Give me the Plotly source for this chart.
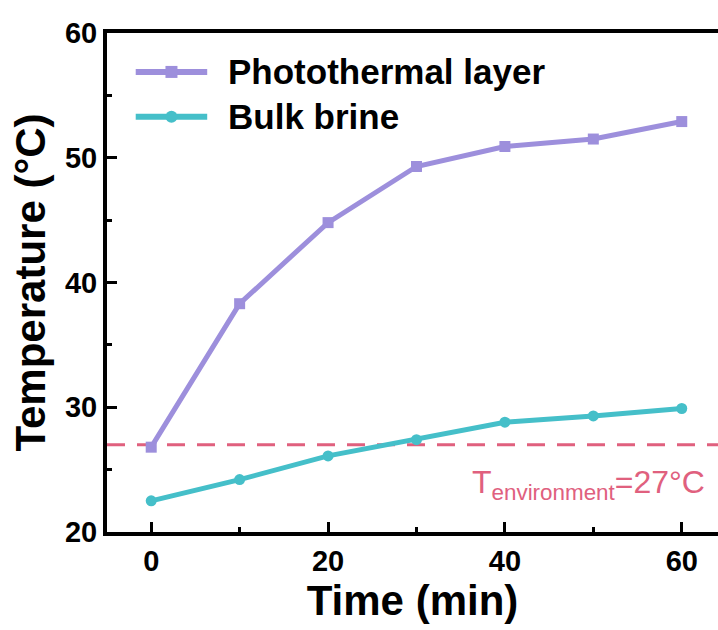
import plotly.graph_objects as go

# Measured temperatures over time
time_min = [0, 10, 20, 30, 40, 50, 60]
photothermal_layer = [26.8, 38.3, 44.8, 49.3, 50.9, 51.5, 52.9]
bulk_brine = [22.5, 24.2, 26.1, 27.4, 28.8, 29.3, 29.9]
t_environment = 27

series_names = ["Photothermal layer", "Bulk brine"]
purple = "#9d8fdc"
teal = "#45bfc9"
pink = "#e0607e"

FONT = "Liberation Sans, Arial, sans-serif"

fig = go.Figure()
fig.add_trace(go.Scatter(
    x=time_min, y=photothermal_layer, mode="lines+markers", name=series_names[0],
    line=dict(color=purple, width=5),
    marker=dict(symbol="square", size=11, color=purple),
    showlegend=False,
))
fig.add_trace(go.Scatter(
    x=time_min, y=bulk_brine, mode="lines+markers", name=series_names[1],
    line=dict(color=teal, width=5),
    marker=dict(symbol="circle", size=11, color=teal),
    showlegend=False,
))

# Ambient temperature reference line
fig.add_shape(type="line", xref="paper", yref="y", x0=0, x1=1,
              y0=t_environment, y1=t_environment,
              line=dict(color=pink, width=3, dash="18px,12px"), layer="below")
fig.add_annotation(
    xref="x", yref="y", x=62.9, y=t_environment - 1.4,
    text=f"T<sub>environment</sub>={t_environment}°C",
    showarrow=False, xanchor="right", yanchor="top",
    font=dict(family=FONT, size=32, color=pink, weight=500),
)

# Legend keys drawn with long line samples
legend_rows = [(0.922, purple, "rect"), (0.832, teal, "circle")]
for (ypos, color, kind), label in zip(legend_rows, series_names):
    fig.add_shape(type="line", xref="paper", yref="paper",
                  x0=0.047, x1=0.164, y0=ypos, y1=ypos,
                  line=dict(color=color, width=6))
    fig.add_shape(type=kind, xref="paper", yref="paper",
                  xsizemode="pixel", ysizemode="pixel",
                  xanchor=0.1055, yanchor=ypos,
                  x0=-6, x1=6, y0=-6, y1=6,
                  fillcolor=color, line=dict(color=color, width=0))
    fig.add_annotation(xref="paper", yref="paper", x=0.195, y=ypos,
                       text=label, showarrow=False, xanchor="left", yanchor="middle",
                       font=dict(family=FONT, size=35, color="black", weight="bold"))

fig.update_xaxes(
    range=[-5, 64.1], tickvals=[0, 20, 40, 60],
    ticks="inside", ticklen=10, tickwidth=3, tickcolor="black",
    minor=dict(tickvals=[10, 30, 50], ticks="inside", ticklen=5, tickwidth=3, tickcolor="black"),
    showline=True, linewidth=4, linecolor="black", mirror=True,
    showgrid=False, zeroline=False,
    tickfont=dict(family=FONT, size=29, color="black", weight="bold"),
    title=dict(text="Time (min)", standoff=6,
               font=dict(family=FONT, size=42, color="black", weight="bold")),
)
fig.update_yaxes(
    range=[20, 60], tickvals=[20, 30, 40, 50, 60],
    ticks="inside", ticklen=10, tickwidth=3, tickcolor="black",
    minor=dict(tickvals=[25, 35, 45, 55], ticks="inside", ticklen=5, tickwidth=3, tickcolor="black"),
    showline=True, linewidth=4, linecolor="black", mirror=False,
    showgrid=False, zeroline=False,
    tickfont=dict(family=FONT, size=29, color="black", weight="bold"),
    title=dict(text="Temperature (°C)", standoff=7,
               font=dict(family=FONT, size=42, color="black", weight="bold")),
)

fig.update_layout(
    width=718, height=630,
    margin=dict(l=107, r=0, t=33, b=98),
    plot_bgcolor="white", paper_bgcolor="white",
    showlegend=False,
)

fig.write_html("out.html")
